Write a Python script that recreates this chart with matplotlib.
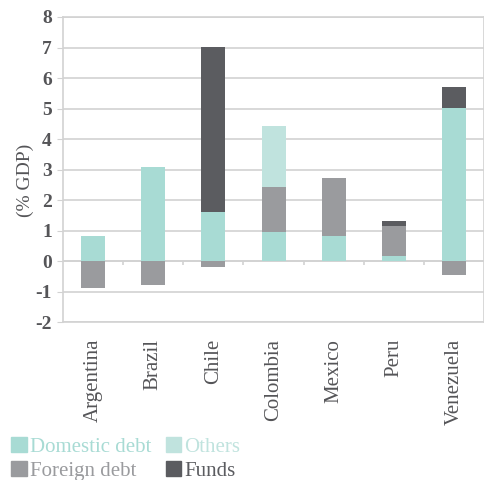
import numpy as np
import matplotlib
matplotlib.use("Agg")
import matplotlib.pyplot as plt
from matplotlib.patches import Patch

countries = ["Argentina", "Brazil", "Chile", "Colombia", "Mexico", "Peru", "Venezuela"]
domestic = [0.83, 3.08, 1.62, 0.96, 0.83, 0.17, 5.03]
foreign = [-0.87, -0.78, -0.18, 1.47, 1.90, 0.97, -0.45]
others = [0, 0, 0, 2.00, 0, 0, 0]
funds = [0, 0, 5.40, 0, 0, 0.17, 0.66]

series = [
    ("Domestic debt", domestic, "#a8dbd4"),
    ("Foreign debt", foreign, "#9a9b9e"),
    ("Others", others, "#c0e3de"),
    ("Funds", funds, "#5b5c60"),
]

plt.rcParams["font.family"] = ["Liberation Serif", "DejaVu Serif"]
plt.rcParams["axes.unicode_minus"] = False
txt = "#555558"
grid = "#d2d2d2"

fig = plt.figure(figsize=(4.85, 4.8), dpi=100)
ax = fig.add_axes([0.13, 0.329, 0.868, 0.6356])

x = np.arange(len(countries))
pos = np.zeros(len(countries))
neg = np.zeros(len(countries))
for name, vals, col in series:
    v = np.array(vals, dtype=float)
    bottom = np.where(v >= 0, pos, neg)
    ax.bar(x, v, 0.4, bottom=bottom, color=col, zorder=3)
    pos = pos + np.where(v > 0, v, 0)
    neg = neg + np.where(v < 0, v, 0)

ax.set_xlim(-0.5, len(countries) - 0.5)
ax.set_ylim(-2, 8)
ax.set_yticks(range(-2, 9))
ax.grid(axis="y", color=grid, lw=1.2, zorder=0)
ax.axhline(0, color=grid, lw=1.2, zorder=1)
ax.vlines(np.arange(0.5, len(countries) - 0.5), -0.12, 0, color=grid, lw=1.2, zorder=1)

for s in ax.spines.values():
    s.set_color(grid)
    s.set_linewidth(1.2)

ax.set_xticks(x)
ax.set_xticklabels(countries, rotation=90, fontsize=15, color=txt)
ax.tick_params(axis="x", length=0, pad=12)
ax.tick_params(axis="y", length=4, color=grid, pad=4, labelsize=14, labelcolor=txt)
for lab in ax.get_yticklabels():
    lab.set_fontweight("bold")
ax.set_ylabel("(% GDP)", fontsize=14, color=txt)
ax.yaxis.set_label_coords(-0.068, 0.466)

handles = [Patch(color=c) for _, _, c in series]
labels = [n for n, _, _ in series]
leg = fig.legend(handles, labels, ncol=2, loc="lower left", bbox_to_anchor=(-0.003, -0.028),
                 frameon=False, fontsize=15, handlelength=0.75, handleheight=0.75,
                 handletextpad=0.15, columnspacing=0.7, labelspacing=0.2,
                 borderaxespad=0.2)
for t, (_, _, c) in zip(leg.get_texts(), series):
    t.set_color(c)

fig.savefig("out.png", dpi=100)
